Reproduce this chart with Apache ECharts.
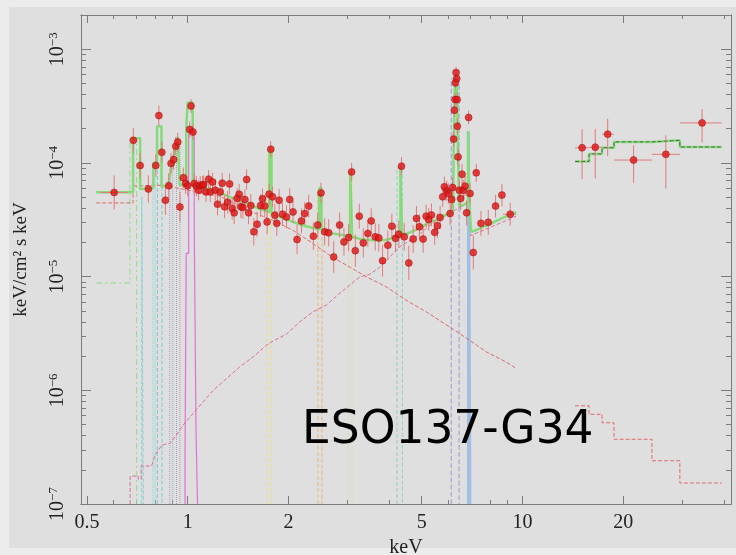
<!DOCTYPE html>
<html>
<head>
<meta charset="utf-8">
<script src="https://cdn.jsdelivr.net/npm/echarts@6.0.0/dist/echarts.min.js"></script>
<style>
html,body{margin:0;padding:0;background:#ececec}
#chart{width:736px;height:555px}
</style>
</head>
<body>
<div id="chart"></div>
<script>
// axis ticks
var energyTicks = [0.5, 1, 2, 5, 10, 20];
var energyMinorTicks = [0.6, 0.7, 0.8, 0.9, 3, 4, 6, 7, 8, 9, 30, 40];
var fluxTicks = [1e-7, 1e-6, 1e-5, 1e-4, 1e-3];
var fluxMinorTicks = [2e-7, 3e-7, 4e-7, 5e-7, 6e-7, 7e-7, 8e-7, 9e-7,
	2e-6, 3e-6, 4e-6, 5e-6, 6e-6, 7e-6, 8e-6, 9e-6,
	2e-5, 3e-5, 4e-5, 5e-5, 6e-5, 7e-5, 8e-5, 9e-5,
	2e-4, 3e-4, 4e-4, 5e-4, 6e-4, 7e-4, 8e-4, 9e-4, 2e-3];
var FLOOR = 1e-7;

// soft band: [keV, flux, error (dex), bin lo, bin hi]
var softPoints = [
	[0.603,5.5e-5,0.15,0.548,0.664],[0.688,1.58e-4,0.11],[0.721,9.5e-5,0.11],[0.763,5.9e-5,0.12],
	[0.803,9.5e-5,0.10],[0.820,2.61e-4,0.09],[0.837,1.24e-4,0.09],[0.858,4.7e-5,0.13],
	[0.878,6.3e-5,0.11],[0.892,9.9e-5,0.09],[0.908,1.07e-4,0.09],[0.921,1.40e-4,0.08],
	[0.934,1.53e-4,0.08],[0.948,4.1e-5,0.13],[0.970,7.4e-5,0.09],[0.986,6.6e-5,0.09],
	[1.000,6.3e-5,0.09],[1.014,1.97e-4,0.07],[1.023,3.17e-4,0.06],[1.037,1.87e-4,0.07],
	[1.046,6.6e-5,0.09],[1.061,6.25e-5,0.09],[1.078,5.76e-5,0.09],[1.090,6.37e-5,0.08],
	[1.108,6.37e-5,0.08],[1.116,6.46e-5,0.08],[1.134,5.56e-5,0.09],[1.155,7.2e-5,0.08],
	[1.168,5.56e-5,0.09],[1.187,6.81e-5,0.08],[1.209,5.76e-5,0.09],[1.228,4.34e-5,0.10],
	[1.251,5.56e-5,0.09],[1.268,6.64e-5,0.09],[1.289,4.11e-5,0.10],[1.316,4.52e-5,0.10],
	[1.334,6.53e-5,0.09],[1.358,3.98e-5,0.10],[1.377,3.64e-5,0.10],[1.405,4.87e-5,0.09],
	[1.425,5.31e-5,0.09],[1.442,4.11e-5,0.10],[1.462,4.06e-5,0.10],[1.482,4.77e-5,0.09],
	[1.500,7.15e-5,0.09],[1.520,3.64e-5,0.10],[1.544,4.22e-5,0.10],[1.576,2.48e-5,0.12],
	[1.612,2.89e-5,0.11],[1.651,4.22e-5,0.10],[1.673,4.83e-5,0.09],[1.700,4.17e-5,0.10],
	[1.727,3.03e-5,0.11],[1.751,5.31e-5,0.09],[1.771,1.32e-4,0.07],[1.792,5.03e-5,0.09],
	[1.821,3.47e-5,0.10],[1.846,2.94e-5,0.11],[1.875,4.7e-5,0.10],[1.920,3.54e-5,0.10],
	[1.973,3.35e-5,0.10],[2.018,4.77e-5,0.10],[2.064,3.71e-5,0.10],[2.122,2.12e-5,0.13],
	[2.187,3.09e-5,0.11],[2.237,3.59e-5,0.10],[2.299,4.17e-5,0.10],[2.374,2.27e-5,0.12],
	[2.446,2.85e-5,0.11],[2.502,5.45e-5,0.09],[2.566,2.48e-5,0.12],[2.638,2.43e-5,0.12],
	[2.730,1.49e-5,0.14],[2.844,2.84e-5,0.11],[2.930,2.02e-5,0.12],[3.026,2.21e-5,0.12],
	[3.089,8.34e-5,0.08],[3.168,1.69e-5,0.14],[3.256,3.40e-5,0.11],[3.347,1.98e-5,0.13],
	[3.453,2.40e-5,0.12],[3.535,3.09e-5,0.11],[3.634,2.24e-5,0.12],[3.725,2.19e-5,0.12],
	[3.821,1.38e-5,0.14],[3.963,1.89e-5,0.13],[4.073,2.78e-5,0.11],[4.178,2.17e-5,0.12],
	[4.273,2.36e-5,0.12],[4.353,9.36e-5,0.08],[4.435,2.24e-5,0.12],[4.577,1.32e-5,0.15],
	[4.717,2.14e-5,0.12],[4.825,3.25e-5,0.11],[4.925,2.74e-5,0.11],[5.051,2.14e-5,0.12],
	[5.157,3.40e-5,0.10],[5.250,3.18e-5,0.10],[5.348,3.49e-5,0.10],[5.470,2.45e-5,0.11],
	[5.573,2.80e-5,0.11],[5.677,3.31e-5,0.10],[5.779,5.03e-5,0.09],[5.847,6.16e-5,0.09],
	[5.940,5.68e-5,0.09],[6.010,5.39e-5,0.09],[6.081,3.59e-5,0.10],[6.148,4.77e-5,0.10],
	[6.190,6.08e-5,0.09],[6.233,1.62e-4,0.07],[6.263,2.91e-4,0.06],[6.293,3.61e-4,0.06],
	[6.306,5.06e-4,0.05],[6.337,6.24e-4,0.05],[6.363,5.53e-4,0.05],[6.380,3.61e-4,0.06],
	[6.392,2.10e-4,0.07],[6.424,1.13e-4,0.08],[6.481,5.76e-5,0.09],[6.540,4.87e-5,0.10],
	[6.603,7.96e-5,0.09],[6.661,5.76e-5,0.09],[6.739,6.25e-5,0.09],[6.813,3.64e-5,0.11],
	[6.907,2.51e-4,0.06],[6.974,5.39e-5,0.09],[7.133,1.63e-5,0.15],[7.281,8.18e-5,0.08],
	[7.521,2.94e-5,0.11],[7.907,3.00e-5,0.11],[8.315,4.17e-5,0.10],[8.687,5.21e-5,0.10],
	[9.196,3.54e-5,0.10,8.75,9.58]
];

// hard band: [keV, bin lo, bin hi, flux, flux lo, flux hi]
var hardPoints = [
	[15.08,14.37,15.82,1.36e-4,7.2e-5,1.98e-4],
	[16.51,15.82,17.30,1.375e-4,7.3e-5,1.99e-4],
	[17.98,17.30,18.78,1.79e-4,1.15e-4,2.44e-4],
	[21.49,18.78,24.38,1.06e-4,6.68e-5,1.43e-4],
	[26.83,24.38,29.54,1.19e-4,5.96e-5,1.75e-4],
	[34.42,29.54,39.41,2.25e-4,1.51e-4,2.97e-4]
];

// total model
var totalSoft = [[0.533,5.53e-5],[0.687,5.53e-5],[0.687,1.65e-4],[0.721,1.65e-4],[0.721,5.9e-5],[0.79,6.0e-5],
	[0.79,1.0e-4],[0.81,1.0e-4],[0.81,2.1e-4],[0.835,2.1e-4],[0.835,6.2e-5],[0.875,6.3e-5],[0.888,8.4e-5],
	[0.91,1.2e-4],[0.934,1.7e-4],[0.946,1.7e-4],[0.946,6.4e-5],[0.99,6.4e-5],[0.99,2.0e-4],[1.0,3.4e-4],
	[1.035,3.4e-4],[1.035,6.3e-5],[1.1,6.1e-5],[1.2,5.76e-5],[1.34,5.0e-5],[1.5,4.4e-5],[1.65,3.9e-5],
	[1.755,3.7e-5],[1.755,1.32e-4],[1.78,1.32e-4],[1.78,3.6e-5],[1.9,3.3e-5],[2.0,3.14e-5],[2.2,2.83e-5],
	[2.47,2.6e-5],[2.47,6.0e-5],[2.51,6.0e-5],[2.51,2.58e-5],[2.7,2.4e-5],[3.06,2.26e-5],[3.06,8.5e-5],
	[3.1,8.5e-5],[3.1,2.24e-5],[3.3,2.13e-5],[3.6,2.09e-5],[3.9,2.1e-5],[4.32,2.28e-5],[4.32,9.4e-5],
	[4.37,9.4e-5],[4.37,2.3e-5],[4.7,2.5e-5],[5.0,2.75e-5],[5.5,3.14e-5],[6.0,3.6e-5],[6.2,3.7e-5],
	[6.24,1.5e-4],[6.28,4.5e-4],[6.33,5.8e-4],[6.38,4.5e-4],[6.42,1.2e-4],[6.47,4.2e-5],[6.6,4.2e-5],
	[6.88,4.5e-5],[6.88,1.9e-4],[6.94,1.9e-4],[6.94,4.6e-5],[7.03,4.7e-5],[7.03,2.46e-5],[7.5,2.67e-5],
	[8.0,2.89e-5],[8.7,3.27e-5],[9.58,3.69e-5]];
var totalHard = [[14.37,1.03e-4],[15.82,1.03e-4],[15.82,1.2e-4],[17.30,1.2e-4],[17.30,1.36e-4],[18.78,1.36e-4],
	[18.78,1.53e-4],[24.38,1.53e-4],[24.38,1.58e-4],[29.54,1.58e-4],[29.54,1.38e-4],[39.41,1.38e-4]];

// power law
var powerSoft = [[0.533,4.45e-5],[0.687,4.45e-5],[0.687,6.28e-5],[0.844,6.37e-5],[1.111,5.42e-5],[1.248,5.1e-5],
	[1.552,3.71e-5],[1.796,3.14e-5],[2.06,2.56e-5],[2.36,1.97e-5],[2.70,1.49e-5],[3.10,1.18e-5],[3.42,9.96e-6],
	[3.92,8.13e-6],[4.49,6.21e-6],[5.16,4.9e-6],[6.05,3.62e-6],[6.94,2.77e-6],[7.80,2.18e-6],[8.92,1.78e-6],
	[9.58,1.56e-6]];
var powerHard = [[14.37,7.31e-7],[15.82,7.31e-7],[15.82,6.15e-7],[17.30,6.15e-7],[17.30,5.18e-7],[18.78,5.18e-7],
	[18.78,3.71e-7],[24.38,3.71e-7],[24.38,2.40e-7],[29.54,2.40e-7],[29.54,1.53e-7],[39.41,1.53e-7]];

// reflection
var reflSoft = [[0.673,1e-7],[0.673,1.76e-7],[0.712,1.76e-7],[0.712,1.65e-7],[0.726,1.65e-7],[0.726,2.16e-7],
	[0.78,2.16e-7],[0.799,2.7e-7],[0.837,3.3e-7],[0.886,3.42e-7],[0.917,3.9e-7],[0.97,4.95e-7],[1.028,6.06e-7],
	[1.113,7.93e-7],[1.192,1.0e-6],[1.307,1.27e-6],[1.432,1.61e-6],[1.569,1.97e-6],[1.72,2.5e-6],[1.80,2.71e-6],
	[1.973,3.12e-6],[2.163,4.0e-6],[2.369,4.9e-6],[2.595,5.62e-6],[2.844,7.12e-6],[3.263,9.9e-6],[3.50,1.05e-5],
	[3.74,1.2e-5],[4.30,1.83e-5],[4.81,2.24e-5],[5.39,2.94e-5],[6.05,3.59e-5],[6.79,4.4e-5],[6.99,4.7e-5],
	[6.99,2.3e-5],[7.5,2.5e-5],[8.0,2.7e-5],[9.58,3.4e-5]];

// emission lines
var lineO7 = [[0.533,8.8e-6],[0.672,8.8e-6],[0.672,1.65e-4],[0.704,1.65e-4],[0.704,1e-7]];
var lineNe = [[0.982,1e-7],[0.982,2.9e-7],[0.99,2.9e-7],[0.99,1.6e-5],[1.007,1.6e-5],[1.007,1.9e-4],
	[1.046,1.9e-4],[1.046,2.74e-5],[1.059,2.74e-5],[1.059,4.3e-7],[1.07,4.3e-7],[1.07,1e-7]];
// [keV lo, keV hi, peak]
var lineO8 = [0.729, 0.737, 5.0e-5];
var lineFeA = [0.788, 0.800, 1.0e-4];
var lineFeB = [0.812, 0.838, 2.0e-4];
var lineFeC = [0.884, 0.902, 9.0e-5];
var lineFeD = [0.926, 0.948, 1.6e-4];
var lineSi = [1.725, 1.772, 1.3e-4];
var lineS = [2.45, 2.52, 5.5e-5];
var lineAr = [3.02, 3.10, 8.0e-5];
var lineCa = [4.22, 4.38, 9.0e-5];
var lineFeKa = [6.13, 6.47, 5.5e-4];
var lineFeXXVI = [6.90, 6.97, 1.9e-4];

function tower(row){
	return [[row[0],FLOOR],[row[0],row[2]],[row[1],row[2]],[row[1],FLOOR]];
}
function lineSeries(data, color, type, width, z){
	return {type:'line', data:data, symbol:'none', showSymbol:false, xAxisIndex:0, yAxisIndex:0,
		lineStyle:{color:color, type:type, width:width}, z:z, silent:true, clip:true};
}

var errData = [];
var pointData = [];
softPoints.forEach(function(p){
	var k = Math.pow(10, p[2]);
	errData.push([p[0], p[1], p[1]/k, p[1]*k, p[3] || p[0], p[4] || p[0]]);
	pointData.push([p[0], p[1]]);
});
hardPoints.forEach(function(p){
	errData.push([p[0], p[3], p[4], p[5], p[1], p[2]]);
	pointData.push([p[0], p[3]]);
});

var axisColor = '#7c7c7c';
var serif = '"Liberation Serif", "DejaVu Serif", serif';

function xAx(pos, ticks, len, showLabel){
	return {type:'log', logBase:10, gridIndex:0, position:pos, min:0.48, max:42,
		name: showLabel ? 'keV' : '', nameLocation:'middle', nameGap:33,
		nameTextStyle:{fontFamily:serif, fontSize:20, color:'#222'},
		axisLine:{show:true, onZero:false, lineStyle:{color:axisColor, width:1}},
		axisTick:{show:true, inside:true, length:len, customValues:ticks, lineStyle:{color:axisColor}},
		axisLabel:{show:showLabel, customValues:ticks, margin:9, fontFamily:serif, fontSize:20, color:'#222',
			formatter:function(v){ return String(+(+v).toPrecision(3)); }},
		splitLine:{show:false}, minorTick:{show:false}};
}
function yAx(pos, ticks, len, showLabel){
	return {type:'log', logBase:10, gridIndex:0, position:pos, min:1e-7, max:2e-3,
		name: showLabel ? 'keV/cm\u00b2 s keV' : '', nameLocation:'middle', nameGap:50, nameRotate:90,
		nameTextStyle:{fontFamily:serif, fontSize:19, color:'#222'},
		axisLine:{show:true, onZero:false, lineStyle:{color:axisColor, width:1}},
		axisTick:{show:true, inside:true, length:len, customValues:ticks, lineStyle:{color:axisColor}},
		axisLabel:{show:showLabel, customValues:ticks, rotate:90, margin:12,
			formatter:function(v){ var e = Math.round(Math.log10(v)); return '{b|10}{s|\u2212' + (-e) + '}'; },
			rich:{b:{fontFamily:serif, fontSize:20, color:'#222', lineHeight:22},
				s:{fontFamily:serif, fontSize:13, color:'#222', verticalAlign:'top', lineHeight:22}}},
		splitLine:{show:false}, minorTick:{show:false}};
}

var chart = echarts.init(document.getElementById('chart'));
chart.setOption({
	animation:false,
	backgroundColor:'#ececec',
	grid:{left:81, right:5, top:15, bottom:51, containLabel:false, outerBoundsMode:'none'},
	xAxis:[xAx('bottom', energyTicks, 8, true), xAx('bottom', energyMinorTicks, 4, false),
		xAx('top', energyTicks, 8, false), xAx('top', energyMinorTicks, 4, false)],
	yAxis:[yAx('left', fluxTicks, 10, true), yAx('left', fluxMinorTicks, 5, false),
		yAx('right', fluxTicks, 10, false), yAx('right', fluxMinorTicks, 5, false)],
	graphic:[
		{type:'rect', z:-100, shape:{x:9, y:7, width:727, height:541}, style:{fill:'#dfdfdf'}},
		{type:'text', z:100, left:302, top:408, style:{text:'ESO137-G34', fontFamily:'"DejaVu Sans"', fontSize:45.5, fill:'#000'}}
	],
	series:[
		lineSeries(lineO7, '#8fdc8a', [6,3,2,3], 1, 3),
		lineSeries(tower(lineO8), '#86d2cf', 'dashed', 1, 3),
		lineSeries(tower(lineFeA), '#8ccfe0', 'dotted', 1, 3),
		lineSeries(tower(lineFeB), '#78c8cc', 'dashed', 1, 3),
		lineSeries(tower(lineFeC), '#9ea6c6', 'dotted', 1, 3),
		lineSeries(tower(lineFeD), '#a69eb6', 'dotted', 1, 3),
		lineSeries(lineNe, '#e070d8', 'solid', 1.2, 3),
		lineSeries(tower(lineSi), '#e6df8c', 'dashed', 1, 3),
		lineSeries(tower(lineS), '#ebb27c', 'dashed', 1, 3),
		lineSeries(tower(lineAr), '#dedd9c', 'dotted', 1, 3),
		lineSeries(tower(lineCa), '#8fd4c4', 'dashed', 1, 3),
		lineSeries(tower(lineFeKa), '#a3a3da', 'dashed', 1.2, 3),
		lineSeries(tower(lineFeXXVI), '#a0bfe2', 'solid', 3, 3),
		lineSeries(reflSoft, '#dc6e9a', 'dashed', 1, 4),
		lineSeries(powerSoft, '#e06a6a', 'dashed', 1, 4),
		lineSeries(powerHard, '#e06a6a', 'dashed', 1, 4),
		lineSeries(totalSoft, '#86da7c', 'solid', 2.5, 5),
		lineSeries(totalHard, '#8edc84', 'solid', 2.5, 5),
		lineSeries(totalHard, '#3f6a38', 'dashed', 1, 6),
		{type:'custom', xAxisIndex:0, yAxisIndex:0, data:errData, z:7, silent:true, clip:true,
			encode:{x:0, y:1},
			renderItem:function(params, api){
				var x = api.value(0), y = api.value(1);
				var a = api.coord([x, api.value(2)]), b = api.coord([x, api.value(3)]);
				var c = api.coord([api.value(4), y]), d = api.coord([api.value(5), y]);
				var st = {stroke:'#e27a7a', lineWidth:1};
				return {type:'group', children:[
					{type:'line', shape:{x1:a[0], y1:a[1], x2:b[0], y2:b[1]}, style:st},
					{type:'line', shape:{x1:c[0], y1:c[1], x2:d[0], y2:d[1]}, style:st}
				]};
			}},
		{type:'scatter', xAxisIndex:0, yAxisIndex:0, data:pointData, symbol:'circle', symbolSize:7, z:8, silent:true,
			itemStyle:{color:'#e01414', borderColor:'#9a1010', borderWidth:0.6}}
	]
});
</script>
</body>
</html>
